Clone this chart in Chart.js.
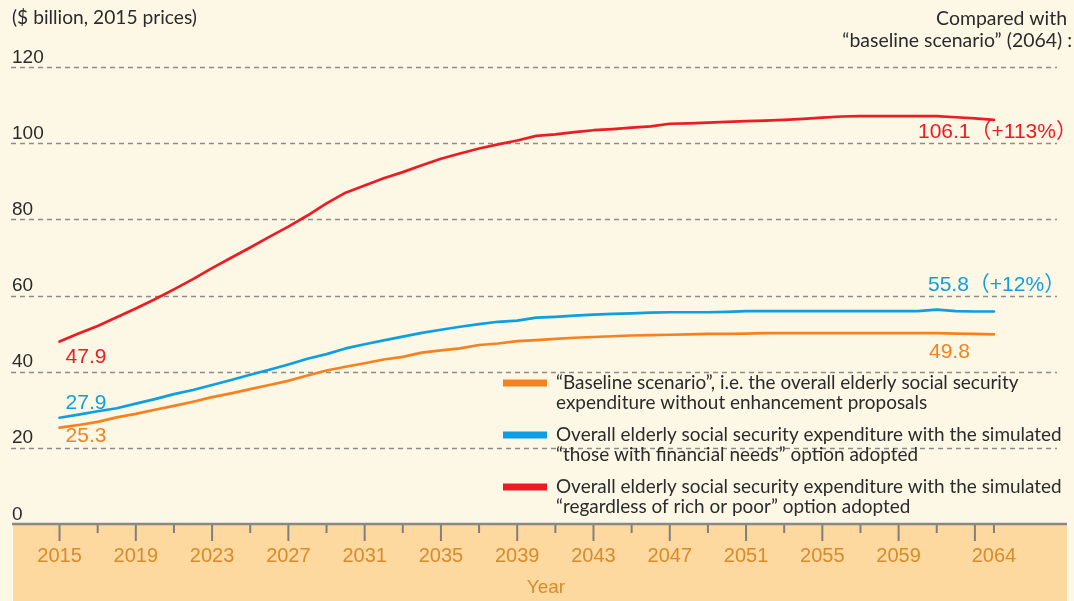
<!DOCTYPE html>
<html><head><meta charset="utf-8">
<script src="https://cdn.jsdelivr.net/npm/chart.js@4"></script>
<style>html,body{margin:0;padding:0;background:#fdf7e6;}canvas{display:block}</style>
</head><body>
<canvas id="c" width="1074" height="601"></canvas>
<script>
const years = [2015,2016,2017,2018,2019,2020,2021,2022,2023,2024,2025,2026,2027,2028,2029,2030,2031,2032,2033,2034,2035,2036,2037,2038,2039,2040,2041,2042,2043,2044,2045,2046,2047,2048,2049,2050,2051,2052,2053,2054,2055,2056,2057,2058,2059,2060,2061,2062,2063,2064];
const baseline = [25.3,26.0,26.8,28.0,28.9,30.0,31.0,32.1,33.3,34.3,35.4,36.5,37.6,39.0,40.3,41.3,42.2,43.2,43.9,45.0,45.6,46.1,47.0,47.4,48.0,48.3,48.6,48.9,49.1,49.3,49.5,49.6,49.7,49.8,49.9,49.9,50.0,50.1,50.1,50.1,50.1,50.1,50.1,50.1,50.1,50.1,50.1,50.0,49.9,49.8];
const financialNeeds = [27.9,28.7,29.6,30.4,31.6,32.8,34.1,35.2,36.5,37.8,39.2,40.5,41.9,43.4,44.6,46.1,47.2,48.2,49.2,50.2,51.0,51.8,52.5,53.1,53.4,54.2,54.4,54.7,55.0,55.2,55.3,55.5,55.6,55.6,55.6,55.7,55.9,55.9,55.9,55.9,55.9,55.9,55.9,55.9,55.9,55.9,56.3,55.9,55.8,55.8];
const richOrPoor = [47.9,50.0,52.0,54.3,56.6,59.0,61.6,64.3,67.2,69.9,72.6,75.4,78.1,81.0,84.2,87.0,88.9,90.8,92.4,94.2,95.9,97.3,98.6,99.7,100.7,101.9,102.3,102.9,103.4,103.7,104.1,104.4,105.1,105.2,105.4,105.6,105.8,105.9,106.1,106.4,106.7,107.0,107.1,107.1,107.1,107.1,107.1,106.8,106.5,106.1];
const yTicks = [0,20,40,60,80,100,120];
const majorTickYears = [2015,2019,2023,2027,2031,2035,2039,2043,2047,2051,2055,2059,2063];
const minorTickYears = [2017,2021,2025,2029,2033,2037,2041,2045,2049,2053,2057,2061,2064];
const xLabelYears = [2015,2019,2023,2027,2031,2035,2039,2043,2047,2051,2055,2059,2064];
const seriesNames = [
  ["“Baseline scenario”, i.e. the overall elderly social security","expenditure without enhancement proposals"],
  ["Overall elderly social security expenditure with the simulated","“those with financial needs” option adopted"],
  ["Overall elderly social security expenditure with the simulated","“regardless of rich or poor” option adopted"]
];
const seriesColors = ["#f5821f","#0f9fe0","#ec1c24"];
const startLabels = ["25.3","27.9","47.9"];
const endLabels = ["49.8","55.8（+12%）","106.1（+113%）"];
const yTitle = "($ billion, 2015 prices)";
const compareNote = ["Compared with","“baseline scenario” (2064) :"];
const xTitle = "Year";

const SANS = '"Lato", "Open Sans", sans-serif';
const NUM = '"Liberation Sans Narrow", "Liberation Sans", "Noto Sans CJK SC", sans-serif';
const NUMW = '"Liberation Sans", "Noto Sans CJK SC", sans-serif';

function fitSize(ctx, text, family, target, base){
  ctx.font = base + 'px ' + family;
  const w = ctx.measureText(text).width;
  return base * target / w;
}

const decor = {
  id: 'decor',
  beforeDraw(chart){
    const {ctx, chartArea:a, scales:{x,y}} = chart;
    ctx.save();
    ctx.fillStyle = '#fdf7e6';
    ctx.fillRect(0,0,chart.width,chart.height);
    ctx.fillStyle = '#fdd99f';
    ctx.fillRect(a.left, a.bottom+1, a.right-a.left, chart.height-a.bottom);
    ctx.strokeStyle = '#8c8c8c';
    ctx.lineWidth = 1.3;
    ctx.setLineDash([5,4]);
    yTicks.forEach(v=>{
      if(v===0) return;
      const py = Math.round(y.getPixelForValue(v))+0.5;
      ctx.beginPath(); ctx.moveTo(a.left-2, py); ctx.lineTo(a.right-10, py); ctx.stroke();
    });
    ctx.setLineDash([]);
    ctx.fillStyle = '#2b2b2b';
    ctx.font = '19px ' + NUMW;
    ctx.textAlign = 'left'; ctx.textBaseline = 'alphabetic';
    yTicks.forEach(v=>{
      const py = y.getPixelForValue(v);
      ctx.fillText(String(v), a.left-1, py-4.5);
    });
    ctx.strokeStyle = '#888888';
    ctx.lineWidth = 2.6;
    ctx.beginPath(); ctx.moveTo(a.left-1, a.bottom); ctx.lineTo(a.right, a.bottom); ctx.stroke();
    ctx.lineWidth = 2;
    ctx.strokeStyle = '#7f7f7f';
    majorTickYears.forEach(t=>{
      const px = x.getPixelForValue(t);
      ctx.beginPath(); ctx.moveTo(px, a.bottom+1); ctx.lineTo(px, a.bottom+17); ctx.stroke();
    });
    minorTickYears.forEach(t=>{
      const px = x.getPixelForValue(t);
      ctx.beginPath(); ctx.moveTo(px, a.bottom+1); ctx.lineTo(px, a.bottom+9); ctx.stroke();
    });
    ctx.fillStyle = '#d98a2a';
    ctx.font = '20px ' + NUMW;
    ctx.textAlign = 'center'; ctx.textBaseline = 'middle';
    xLabelYears.forEach(t=>{
      ctx.fillText(String(t), x.getPixelForValue(t), a.bottom+32);
    });
    ctx.font = '19px ' + NUMW;
    ctx.fillText(xTitle, (a.left+a.right)/2+6, a.bottom+64);
    ctx.restore();
  },
  afterDatasetsDraw(chart){
    const {ctx, chartArea:a, scales:{x,y}} = chart;
    ctx.save();
    ctx.fillStyle = '#2b2b2b';
    ctx.textBaseline = 'middle';
    let s = fitSize(ctx, yTitle, SANS, 185, 18);
    ctx.font = s + 'px ' + SANS;
    ctx.textAlign = 'left';
    ctx.fillText(yTitle, 12, 18);
    s = fitSize(ctx, compareNote[0], SANS, 131, 18);
    ctx.font = s + 'px ' + SANS;
    ctx.textAlign = 'right';
    ctx.fillText(compareNote[0], 1067, 19);
    ctx.fillText(compareNote[1], 1072, 41);
    const lx = 503, tx = 556;
    const ly = [383, 435, 487];
    s = fitSize(ctx, seriesNames[1][0], SANS, 506, 17);
    ctx.font = s + 'px ' + SANS;
    ctx.textAlign = 'left';
    seriesNames.forEach((lines,i)=>{
      ctx.fillStyle = seriesColors[i];
      ctx.fillRect(lx, ly[i]-3.5, 44, 7);
      ctx.fillStyle = '#2b2b2b';
      lines.forEach((ln,j)=> ctx.fillText(ln, tx, ly[i]+j*20));
    });
    const series = [baseline, financialNeeds, richOrPoor];
    const startOff = [8.5, -15, 15.5];
    const endOff = [[-65,17.6],[-66,-26.5],[-76,12.5]];
    ctx.font = '21px ' + NUM;
    ctx.textAlign = 'left'; ctx.textBaseline = 'middle';
    series.forEach((d,i)=>{
      ctx.fillStyle = seriesColors[i];
      const x0 = x.getPixelForValue(years[0]), y0 = y.getPixelForValue(d[0]);
      ctx.fillText(startLabels[i], x0+6, y0+startOff[i]);
      const n = years.length-1;
      const x1 = x.getPixelForValue(years[n]), y1 = y.getPixelForValue(d[n]);
      ctx.fillText(endLabels[i], x1+endOff[i][0], y1+endOff[i][1]);
    });
    ctx.restore();
  }
};

const mk = (arr)=> years.map((yr,i)=>({x:yr, y:arr[i]}));
new Chart(document.getElementById('c'), {
  type: 'line',
  data: {
    datasets: [
      {label: seriesNames[0].join(' '), data: mk(baseline), borderColor: seriesColors[0]},
      {label: seriesNames[1].join(' '), data: mk(financialNeeds), borderColor: seriesColors[1]},
      {label: seriesNames[2].join(' '), data: mk(richOrPoor), borderColor: seriesColors[2]}
    ]
  },
  options: {
    responsive: false,
    devicePixelRatio: 1,
    animation: false,
    layout: {padding: {left: 13, right: 7, top: 67, bottom: 77}},
    elements: {point: {radius: 0}, line: {borderWidth: 2.7, tension: 0, borderCapStyle: 'round', borderJoinStyle: 'round'}},
    scales: {
      x: {type: 'linear', min: 2012.56, max: 2067.83, display: false},
      y: {type: 'linear', min: 0, max: 120, display: false}
    },
    plugins: {legend: {display: false}, tooltip: {enabled: false}}
  },
  plugins: [decor]
});
</script>
</body></html>
